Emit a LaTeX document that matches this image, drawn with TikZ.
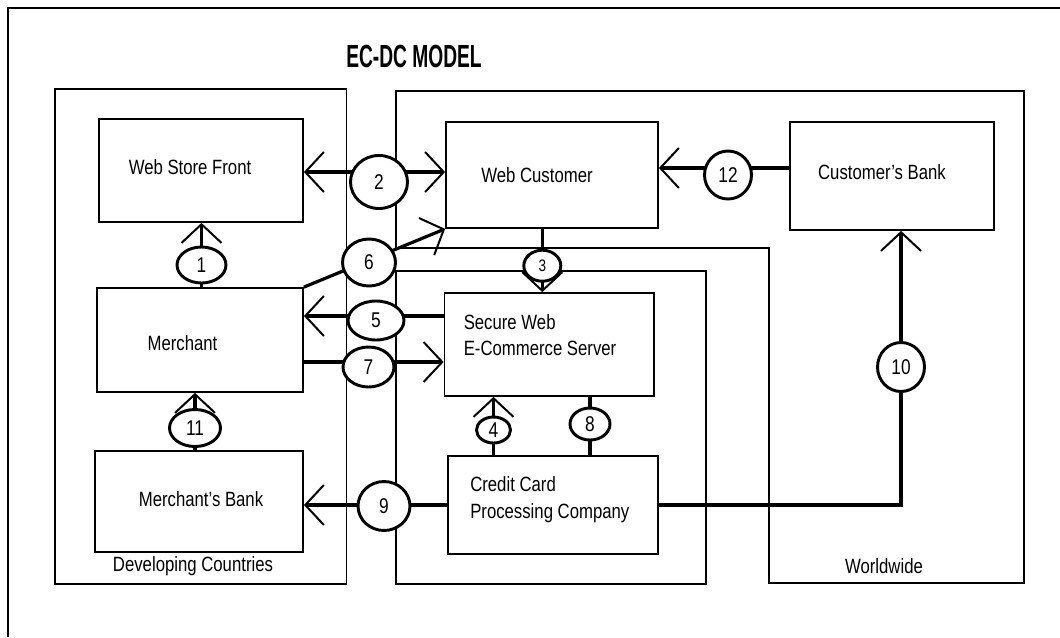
\documentclass[tikz,border=0pt]{standalone}
\usepackage{fontspec}
\setmainfont{Liberation Sans}[FakeStretch=0.81]
\setsansfont{Liberation Sans}[FakeStretch=0.81]
\newfontfamily\titlefont{Liberation Sans}[FakeStretch=0.6]
\usepackage{tikz}
\usetikzlibrary{arrows.meta,backgrounds,calc,fit,positioning,shapes.geometric}
\tikzset{
  font=\sffamily\fontsize{15.5}{19.5}\selectfont,
  region/.style={draw, line width=1.3pt, inner sep=0pt},
  box/.style={draw, line width=1.3pt, inner sep=0pt},
  txt/.style={inner sep=0pt},
  titletext/.style={inner sep=0pt, font=\titlefont\bfseries\fontsize{24}{24}\selectfont},
  num/.style 2 args={ellipse, draw, fill=white, line width=2.2pt, inner sep=0pt,
    minimum width=#1*0.75pt, minimum height=#2*0.75pt, font=\sffamily\fontsize{16}{16}\selectfont},
  smallnum/.style={font=\sffamily\fontsize{12.5}{12.5}\selectfont},
  link/.style={line width=2.4pt},
  flow/.style={link, -{Straight Barb[length=14pt,width=30pt,line width=1.5pt]}},
  flowboth/.style={link, {Straight Barb[length=14pt,width=30pt,line width=1.5pt]}-{Straight Barb[length=14pt,width=30pt,line width=1.5pt]}}
}

\begin{document}
\begin{tikzpicture}[x=0.75pt,y=-0.75pt]
  \useasboundingbox (0,0) rectangle (1060,637);

  % frame, title and regions
  \draw[region] (8,637) -- (8,8) -- (1060,8);
  \node[titletext] (title) at (414,56) {EC-DC MODEL};

  \node[region, fit={(55,89) (346.5,584)}] (dev) {};
  \node[region, fit={(396,271) (706,584)}] (mid) {};
  \draw[region] (396,91) -- (1024,91) -- (1024,583) -- (769,583) -- (769,248) -- (396,248) -- cycle;
  \node[txt] (devlbl) at (193,566) {Developing Countries};
  \node[txt] (wwlbl) at (884,566) {Worldwide};

  % boxes
  \node[box, fit={(99,119) (303,222)}] (wsf) {};
  \node[box, fit={(446,122) (658,228)}] (wc) {};
  \node[box, fit={(790,122) (994,230)}] (cbank) {};
  \node[box, fit={(97,288) (303,392)}] (merchant) {};
  \node[box, fit={(444.5,293) (654,396)}] (sws) {};
  \node[box, fit={(95,451) (303,552)}] (mbank) {};
  \node[box, fit={(448,456) (658,554)}] (ccp) {};

  \node[txt] (wsf-t) at (190,167) {Web Store Front};
  \node[txt] (wc-t) at (537,175) {Web Customer};
  \node[txt] (cbank-t) at (882,172) {Customer's Bank};
  \node[txt] (merchant-t) at (182.5,343) {Merchant};
  \node[txt, anchor=west, align=left] (sws-t) at (463.5,335) {Secure Web\\E-Commerce Server};
  \node[txt] (mbank-t) at (201,499) {Merchant's Bank};
  \node[txt, anchor=west, align=left, font=\sffamily\fontsize{15.5}{20}\selectfont] (ccp-t) at (470,499.5) {Credit Card\\Processing Company};

  % numbered circles
  \node[num={49}{36}] (n1) at (201.5,265) {1};
  \node[num={57}{53}] (n2) at (379,182) {2};
  \node[num={37}{31}, smallnum] (n3) at (542.3,265.7) {3};
  \node[num={34}{26}] (n4) at (493.5,430) {4};
  \node[num={56}{39}] (n5) at (376,320.5) {5};
  \node[num={53}{47}] (n6) at (369,262.5) {6};
  \node[num={51}{40}] (n7) at (368.5,367) {7};
  \node[num={40}{32}] (n8) at (590,424) {8};
  \node[num={52}{49}] (n9) at (384,506) {9};
  \node[num={47}{49}] (n10) at (901,367) {10};
  \node[num={51}{37}] (n11) at (195,428) {11};
  \node[num={47}{48}] (n12) at (728,175) {12};

  % connectors
  \coordinate (y2) at (0,172);
  \coordinate (y5) at (0,316);
  \coordinate (y7) at (0,362);
  \coordinate (y12) at (0,168);
  \begin{scope}[on background layer]
    \draw[flow] (merchant.north -| n1) -- (wsf.south -| n1);
    \draw[flowboth] (wsf.east |- y2) -- (wc.west |- y2);
    \draw[flow] (wc.south -| n3) -- (sws.north -| n3);
    \draw[flow] (ccp.north -| n4) -- (sws.south -| n4);
    \draw[flow] (sws.west |- y5) -- (merchant.east |- y5);
    \draw[flow] (merchant.north east) -- (wc.south west);
    \draw[flow] (merchant.east |- y7) -- (sws.west |- y7);
    \draw[link] (ccp.north -| n8) -- (sws.south -| n8);
    \draw[flow] (ccp.west) -- (mbank.east |- ccp.west);
    \draw[flow] (ccp.east) -| (cbank.south -| n10);
    \draw[flow] (mbank.north -| n11) -- (merchant.south -| n11);
    \draw[flow] (cbank.west |- y12) -- (wc.east |- y12);
  \end{scope}
\end{tikzpicture}
\end{document}
